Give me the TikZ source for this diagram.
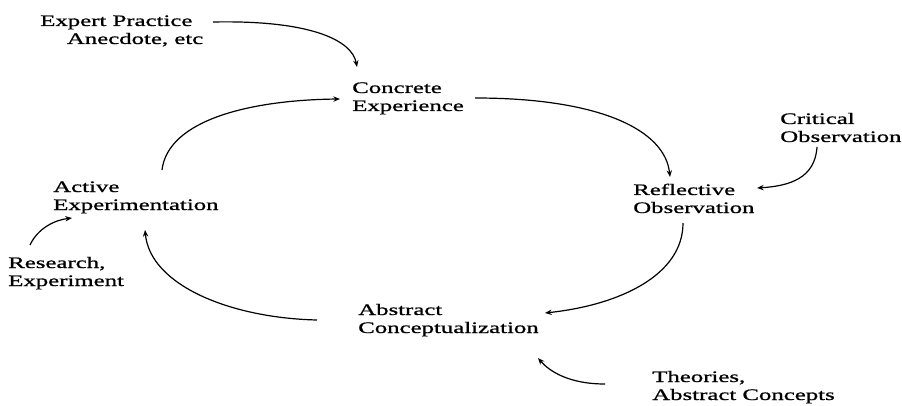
\documentclass[tikz,border=0pt]{standalone}
\usepackage{fontspec}
\setmainfont{Liberation Serif}[FakeStretch=1.55, FakeBold=1]
\usetikzlibrary{arrows.meta, calc}

\begin{document}
\begin{tikzpicture}[
  x=0.75pt, y=-0.75pt,
  stage/.style={anchor=base west, inner sep=0pt, align=left,
    font=\fontsize{12pt}{13.5pt}\selectfont},
  src/.style={stage},
  arr/.style={-{Stealth[length=5pt, width=4pt]}, line width=0.9pt, black},
]
\useasboundingbox (0,0) rectangle (902,406);
% cycle stages (placed at the baseline of the last line)
\node[stage] (conc) at (352, 111) {Concrete\\Experience};
\node[stage] (refl) at (633, 213) {Reflective\\Observation};
\node[stage] (abst) at (358, 333) {Abstract\\Conceptualization};
\node[stage] (act)  at (53, 210)  {Active\\Experimentation};
% sources
\node[src] (expert) at (40, 44)  {Expert Practice\\\hspace*{20pt}Anecdote, etc};
\node[src] (crit)   at (780, 142) {Critical\\Observation};
\node[src] (theo)   at (652, 400) {Theories,\\Abstract Concepts};
\node[src] (res)    at (8, 286)   {Research,\\Experiment};
% cycle
\draw[arr] ($(act.base west)+(109,-40)$) .. controls +(6,-50) and +(-90,1)
  .. ($(conc.base west)+(-12,-12)$);
\draw[arr] ($(conc.base west)+(123,-13)$) .. controls +(125,0) and +(-5,-47)
  .. ($(refl.base west)+(37,-36)$);
\draw[arr] ($(refl.base west)+(50,10)$) .. controls +(0,52) and +(75,-8)
  .. ($(abst.base west)+(187,-20)$);
\draw[arr] ($(abst.base west)+(-41,-13)$) .. controls +(-87,-2) and +(5,55)
  .. ($(act.base west)+(92,20)$);
% inputs
\draw[arr] ($(expert.base west)+(173,-22)$) .. controls +(97,-2) and +(-5,-27)
  .. ($(conc.base west)+(5,-44)$);
\draw[arr] ($(crit.base west)+(37,5)$) .. controls +(-2,31) and +(33,-2)
  .. ($(refl.base west)+(124,-25)$);
\draw[arr] ($(theo.base west)+(-47,-16)$) .. controls +(-35,0) and +(12,14)
  .. ($(abst.base west)+(180,25)$);
\draw[arr] ($(res.base west)+(22,-41)$) .. controls +(8,-17) and +(-17,2)
  .. ($(act.base west)+(19,8)$);
\end{tikzpicture}
\end{document}
